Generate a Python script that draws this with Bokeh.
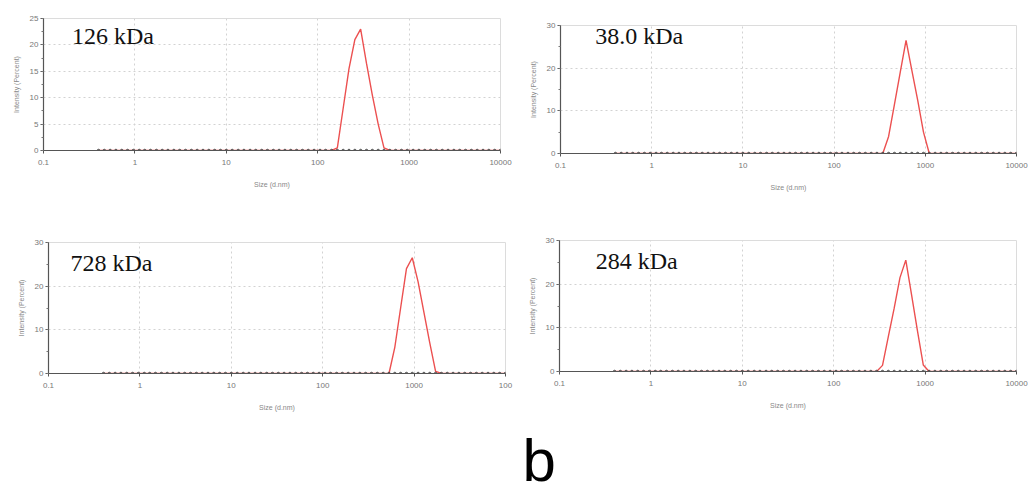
from bokeh.plotting import figure
from bokeh.layouts import column, row
from bokeh.models import Range1d, FixedTicker, SingleIntervalTicker, Label, NumeralTickFormatter
from bokeh.embed import file_html
from bokeh.resources import INLINE

# ---- data ----
SIZE_BINS = [0.4, 0.463, 0.536, 0.62, 0.718, 0.832, 0.963, 1.117, 1.28, 1.48, 1.72, 1.99,
             2.3, 2.67, 3.09, 3.58, 4.15, 4.8, 5.56, 6.44, 7.46, 8.63, 10.0, 11.6, 13.5,
             15.6, 18.2, 21.0, 24.4, 28.2, 32.7, 37.8, 43.8, 50.7, 58.8, 68.1, 78.8, 91.3,
             106, 122, 142, 164, 190, 220, 255, 295, 342, 396, 459, 531, 615, 712, 825,
             955, 1106, 1281, 1484, 1718, 1990, 2305, 2669, 3091, 3580, 4145, 4801, 5560,
             6439, 7456, 8635, 10000]

X_TICKS = [0.1, 1, 10, 100, 1000, 10000]

P1_LABEL = "126 kDa"
P1_SIZES = [164, 190, 220, 255, 295, 342, 396, 459, 531, 615]
P1_INT = [0.5, 8, 15.5, 21, 23, 16.5, 10.5, 5, 0.5, 0]

P2_LABEL = "38.0 kDa"
P2_SIZES = [342, 396, 459, 531, 615, 712, 825, 955, 1106]
P2_INT = [0, 4, 11.5, 19, 26.5, 19.5, 12.5, 5, 0]

P3_LABEL = "728 kDa"
P3_SIZES = [531, 615, 712, 825, 955, 1106, 1281, 1484, 1718]
P3_INT = [0, 6, 15, 24, 26.5, 21, 14, 7, 0.5]

P4_LABEL = "284 kDa"
P4_SIZES = [295, 342, 396, 459, 531, 615, 712, 825, 955, 1106]
P4_INT = [0, 1.4, 8, 14.5, 21.5, 25.5, 17.5, 9.3, 1.5, 0]

RED = "#ec5050"
TICK_COL = "#777777"


def build_curve(sizes, ints):
    lo, hi = min(sizes), max(sizes)
    below = [b for b in SIZE_BINS if b < lo]
    above = [b for b in SIZE_BINS if b > hi]
    xs = below + list(sizes) + above
    ys = [0] * len(below) + list(ints) + [0] * len(above)
    return xs, ys


def panel(sizes, ints, label, ymax, ystep, bl, br, bt, bb, fw, fh,
          label_x, label_y, last_override=None):
    p = figure(x_axis_type="log", x_range=Range1d(0.1, 10000), y_range=Range1d(0, ymax),
               frame_width=fw, frame_height=fh,
               min_border_left=bl, min_border_right=br, min_border_top=bt, min_border_bottom=bb,
               output_backend="svg", toolbar_location=None)
    p.background_fill_color = "white"
    p.border_fill_color = "white"
    p.outline_line_color = "#dcdcdc"

    p.xaxis.ticker = FixedTicker(ticks=X_TICKS, minor_ticks=[])
    p.xaxis.formatter = NumeralTickFormatter(format="0.[0]")
    if last_override:
        p.xaxis.major_label_overrides = {10000: last_override}
    p.yaxis.ticker = SingleIntervalTicker(interval=ystep, num_minor_ticks=2)

    for ax in (p.xaxis[0], p.yaxis[0]):
        ax.axis_line_color = "#555555"
        ax.axis_line_width = 1.2
        ax.major_tick_line_color = "#555555"
        ax.minor_tick_line_color = "#777777"
        ax.major_tick_in = 0
        ax.major_tick_out = 3
        ax.minor_tick_in = 0
        ax.minor_tick_out = 2
        ax.major_label_text_font = "Liberation Sans"
        ax.major_label_text_font_size = "8px"
        ax.major_label_text_color = TICK_COL
        ax.axis_label_text_font = "Liberation Sans"
        ax.axis_label_text_font_size = "7px"
        ax.axis_label_text_font_style = "normal"
        ax.axis_label_text_color = "#888888"
    p.xaxis.major_label_standoff = 6
    p.xaxis.axis_label = "Size (d.nm)"
    p.xaxis.axis_label_standoff = 13
    p.yaxis.major_label_standoff = 2
    p.yaxis.axis_label = "Intensity (Percent)"
    p.yaxis.axis_label_standoff = 7

    p.grid.grid_line_color = "#d2d2d2"
    p.grid.grid_line_dash = "2 3"
    p.grid.grid_line_width = 1

    xs, ys = build_curve(sizes, ints)
    p.line(xs, ys, line_color=RED, line_width=1.4)
    p.scatter(SIZE_BINS, [0] * len(SIZE_BINS), size=2.6, color="#444444", alpha=0.75)

    p.add_layout(Label(x=label_x, y=label_y, text=label, text_font="Liberation Serif",
                       text_font_size="24px", text_color="#111111", text_align="left",
                       text_baseline="middle"))
    return p


p1 = panel(P1_SIZES, P1_INT, P1_LABEL, 25, 5, 43, 17, 18, 80, 457, 132, 0.205, 21.7)
p2 = panel(P2_SIZES, P2_INT, P2_LABEL, 30, 10, 43, 12, 25, 77, 456, 128, 0.24, 27.6)
p3 = panel(P3_SIZES, P3_INT, P3_LABEL, 30, 10, 48, 11, 12, 47, 457, 131, 0.174, 25.2,
           last_override="100")
p4 = panel(P4_SIZES, P4_INT, P4_LABEL, 30, 10, 43, 12, 10, 49, 457, 131, 0.249, 25.3)

pb = figure(width=1028, height=74, x_range=Range1d(0, 1028), y_range=Range1d(0, 74),
            min_border=0, output_backend="svg", toolbar_location=None)
pb.axis.visible = False
pb.grid.visible = False
pb.outline_line_color = None
pb.add_layout(Label(x=522, y=1, text="b", text_font="Liberation Sans",
                    text_font_size="60px", text_color="#000000", text_align="left",
                    text_baseline="bottom"))

layout = column(row(column(p1), column(p2)), row(column(p3), column(p4)), pb)
open("out.html", "w").write(file_html(layout, INLINE))
